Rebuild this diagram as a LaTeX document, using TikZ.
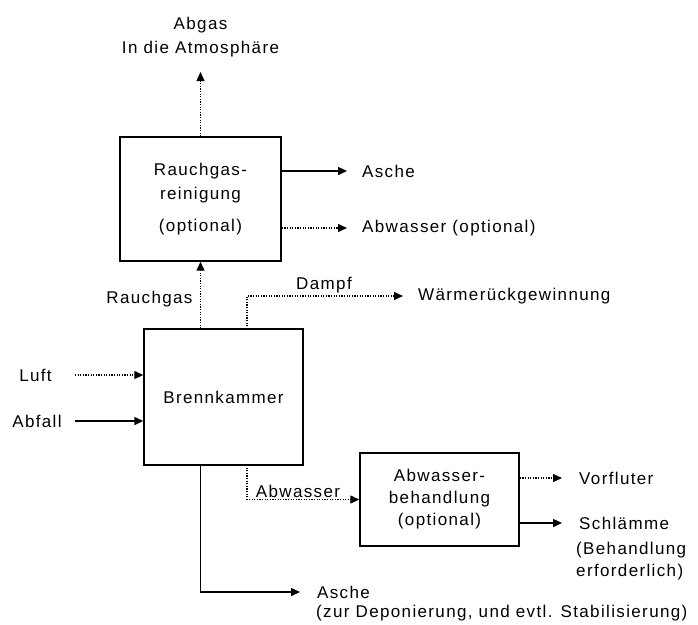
\documentclass[tikz,border=0pt]{standalone}
\usepackage{fontspec}
\setmainfont{Liberation Sans}[LetterSpace=8]
\usetikzlibrary{arrows.meta,positioning}
\tikzset{
	box/.style={draw,line width=1.4pt,align=center,inner sep=0pt},
	solidflow/.style={->,line width=1.4pt},
	dotflow/.style={->,line width=1.2pt,dash pattern=on 1.2pt off 1.4pt},
	outtxt/.style={anchor=west,inner xsep=15pt,inner ysep=0pt},
}
\begin{document}
\begin{tikzpicture}[x=1pt,y=-1pt,>={Triangle[length=9pt,width=8pt]},line join=miter,font=\fontsize{17}{24}\selectfont]
	\useasboundingbox (0,0) rectangle (698,624);
	\node[box,minimum width=161pt,minimum height=124pt] (rein) at (200.5,199) {Rauchgas-\\reinigung\\[8pt](optional)};
	\node[box,minimum width=159pt,minimum height=136pt] (brenn) at (223.5,397) {Brennkammer};
	\node[box,minimum width=159pt,minimum height=93pt] (abwb) at (439.5,499.5) {Abwasser-\\[-2pt]behandlung\\[-2pt](optional)};
	\path 
	(75,375)coordinate(luftin)
	(75,421)coordinate(abfallin)
	(247,329)coordinate(dampfx)
	(247,465)coordinate(abwx)
	;
	\node[align=center,anchor=south,inner ysep=15pt] (abgas) at (200.5,72) {Abgas\\In die Atmosphäre};
	\node[outtxt] (asche) at (347,171) {Asche};
	\node[outtxt] (abwopt) at (347,228) {Abwasser (optional)};
	\node[outtxt] (waerme) at (403,296) {Wärmerückgewinnung};
	\node[outtxt,inner xsep=17pt] (vorfl) at (562,478) {Vorfluter};
	\node[outtxt,inner xsep=17pt] (schlamm) at (562,523) {Schlämme};
	\node[anchor=west,align=left,inner sep=0pt] (schlammnote) at (576,561) {(Behandlung\\[-2pt]erforderlich)};
	\node[outtxt,inner xsep=17pt] (asche2) at (300,592) {Asche};
	\node[anchor=west,inner sep=0pt] (deponie) at (316,613) {(zur Deponierung, und evtl. Stabilisierung)};
	\node (luft) at (35.5,375) {Luft};
	\node (abfall) at (37,421) {Abfall};
	\node[anchor=east] (rglbl) at (196,299) {Rauchgas};
	\node (dampflbl) at (324,285) {Dampf};
	\node (abwlbl) at (298,491) {Abwasser};
	% connectors
	\draw[dotflow] (rein.north) -- (abgas);
	\draw[solidflow] (rein.east |- asche) -- (asche);
	\draw[dotflow] (rein.east |- abwopt) -- (abwopt);
	\draw[dotflow] (brenn.north -| rein.south) -- (rein.south);
	\draw[dotflow] (dampfx) |- (waerme);
	\draw[dotflow] (luftin) -- (brenn.west |- luftin);
	\draw[solidflow] (abfallin) -- (brenn.west |- abfallin);
	\draw[dotflow] (abwx) |- (abwb);
	\draw[solidflow] (brenn.south -| rein.south) |- (asche2);
	\draw[dotflow] (abwb.east |- vorfl) -- (vorfl);
	\draw[solidflow] (abwb.east |- schlamm) -- (schlamm);
\end{tikzpicture}
\end{document}
